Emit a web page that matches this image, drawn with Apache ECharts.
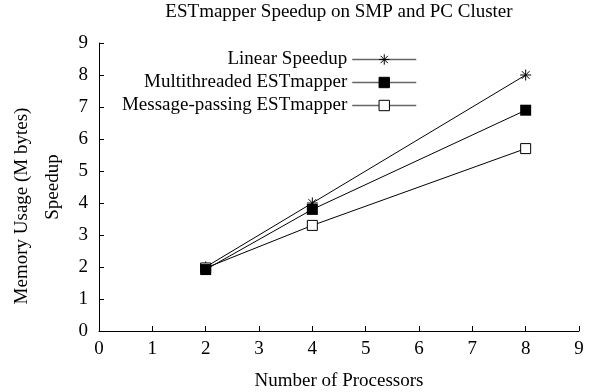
<!DOCTYPE html>
<html>
<head>
<meta charset="utf-8">
<script src="https://cdn.jsdelivr.net/npm/echarts@6/dist/echarts.min.js"></script>
<style>html,body{margin:0;padding:0;background:#fff;}#c{width:594px;height:392px;}</style>
</head>
<body>
<div id="c"></div>
<script>
const titleText = 'ESTmapper Speedup on SMP and PC Cluster';
const xAxisName = 'Number of Processors';
const yAxisName = 'Speedup';
const yAxisName2 = 'Memory Usage (M bytes)';
const seriesNames = ['Linear Speedup', 'Multithreaded ESTmapper', 'Message-passing ESTmapper'];
const processors = [2, 4, 8];
const linearSpeedup = [2, 4, 8];
const multithreaded = [1.92, 3.8, 6.9];
const messagePassing = [1.97, 3.3, 5.7];
const xTicks = [0, 1, 2, 3, 4, 5, 6, 7, 8, 9];
const yTicks = [0, 1, 2, 3, 4, 5, 6, 7, 8, 9];

const FONT = 'Liberation Serif';
const starPath = 'path://M5,0L5,10M0,5L10,5M1.5,1.5L8.5,8.5M8.5,1.5L1.5,8.5';
const pairs = (ys) => processors.map((x, i) => [x, ys[i]]);

const chart = echarts.init(document.getElementById('c'), null, {renderer: 'canvas'});
const legendBase = {
  orient: 'horizontal', align: 'right', right: 177,
  itemWidth: 64, itemHeight: 13, itemGap: 5, padding: 0,
  textStyle: {fontFamily: FONT, fontSize: 19, color: '#000'},
  lineStyle: {color: '#666', width: 1.5},
  itemStyle: {borderWidth: 1},
  selectedMode: false
};
chart.setOption({
  animation: false,
  backgroundColor: '#fff',
  title: {
    text: titleText, left: 339, top: 3, textAlign: 'center', padding: 0,
    textStyle: {fontFamily: FONT, fontSize: 19, fontWeight: 'normal', color: '#000'}
  },
  legend: [
    Object.assign({}, legendBase, {top: 50, data: [seriesNames[0]]}),
    Object.assign({}, legendBase, {top: 73, data: [seriesNames[1]]}),
    Object.assign({}, legendBase, {top: 96, data: [seriesNames[2]]})
  ],
  grid: {left: 99, right: 15, top: 43, bottom: 61, containLabel: false},
  xAxis: {
    type: 'value', min: xTicks[0], max: xTicks[xTicks.length - 1], interval: 1,
    axisLine: {show: true, lineStyle: {color: '#000', width: 1}},
    axisTick: {show: true, inside: true, length: 5, lineStyle: {color: '#000'}},
    axisLabel: {fontFamily: FONT, fontSize: 19, color: '#000', margin: 9},
    splitLine: {show: false}
  },
  yAxis: {
    type: 'value', min: yTicks[0], max: yTicks[yTicks.length - 1], interval: 1,
    axisLine: {show: true, lineStyle: {color: '#000', width: 1}},
    axisTick: {show: true, inside: true, length: 5, lineStyle: {color: '#000'}},
    axisLabel: {fontFamily: FONT, fontSize: 19, color: '#000', margin: 11},
    splitLine: {show: false}
  },
  graphic: [
    {type: 'text', x: 339, y: 381, style: {text: xAxisName, font: '19px "' + FONT + '"', fill: '#000', align: 'center', verticalAlign: 'middle'}},
    {type: 'text', x: 53, y: 187, rotation: Math.PI / 2, style: {text: yAxisName, font: '19px "' + FONT + '"', fill: '#000', align: 'center', verticalAlign: 'middle'}},
    {type: 'text', x: 22, y: 206, rotation: Math.PI / 2, style: {text: yAxisName2, font: '19px "' + FONT + '"', fill: '#000', align: 'center', verticalAlign: 'middle'}}
  ],
  series: [
    {
      name: seriesNames[0], type: 'line', data: pairs(linearSpeedup), z: 2,
      symbol: starPath, symbolSize: 11,
      lineStyle: {color: '#000', width: 1},
      itemStyle: {color: '#000', borderColor: '#000', borderWidth: 1}
    },
    {
      name: seriesNames[1], type: 'line', data: pairs(multithreaded), z: 4,
      symbol: 'rect', symbolSize: 11,
      lineStyle: {color: '#000', width: 1},
      itemStyle: {color: '#000', borderColor: '#000', borderWidth: 0}
    },
    {
      name: seriesNames[2], type: 'line', data: pairs(messagePassing), z: 3,
      symbol: 'rect', symbolSize: 10,
      lineStyle: {color: '#000', width: 1},
      itemStyle: {color: '#fff', borderColor: '#000', borderWidth: 1}
    }
  ]
});
</script>
</body>
</html>
